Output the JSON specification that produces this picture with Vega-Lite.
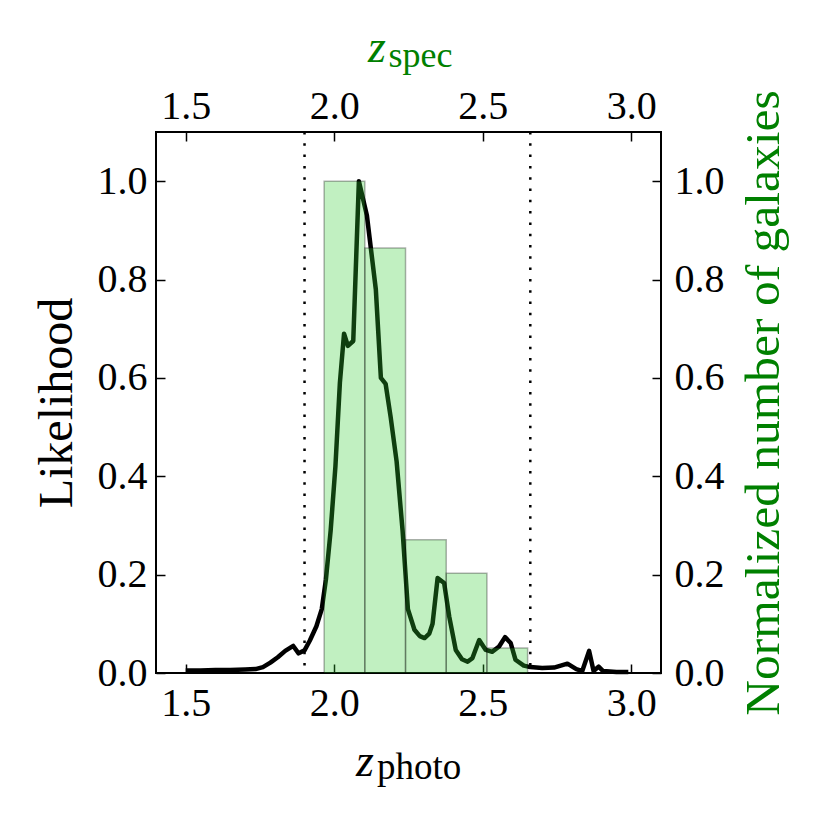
{
  "$schema": "https://vega.github.io/schema/vega-lite/v6.json",
  "width": 505,
  "height": 541,
  "autosize": {"type": "none"},
  "padding": {"left": 156, "top": 132, "right": 156, "bottom": 144},
  "background": "white",
  "datasets": {
    "likelihood": [
      {"z": 1.50, "L": 0.005}, {"z": 1.55, "L": 0.005}, {"z": 1.60, "L": 0.006}, {"z": 1.65, "L": 0.006},
      {"z": 1.70, "L": 0.007}, {"z": 1.735, "L": 0.008}, {"z": 1.76, "L": 0.012}, {"z": 1.785, "L": 0.021},
      {"z": 1.81, "L": 0.032}, {"z": 1.835, "L": 0.045}, {"z": 1.862, "L": 0.055}, {"z": 1.88, "L": 0.040},
      {"z": 1.90, "L": 0.046}, {"z": 1.918, "L": 0.066}, {"z": 1.94, "L": 0.095}, {"z": 1.958, "L": 0.13},
      {"z": 1.972, "L": 0.19}, {"z": 1.988, "L": 0.29}, {"z": 2.004, "L": 0.42}, {"z": 2.019, "L": 0.59},
      {"z": 2.033, "L": 0.69}, {"z": 2.046, "L": 0.665}, {"z": 2.064, "L": 0.675}, {"z": 2.083, "L": 1.0},
      {"z": 2.11, "L": 0.93}, {"z": 2.14, "L": 0.78}, {"z": 2.157, "L": 0.60}, {"z": 2.173, "L": 0.588},
      {"z": 2.19, "L": 0.52}, {"z": 2.21, "L": 0.43}, {"z": 2.23, "L": 0.29}, {"z": 2.248, "L": 0.13},
      {"z": 2.27, "L": 0.088}, {"z": 2.288, "L": 0.075}, {"z": 2.304, "L": 0.071}, {"z": 2.32, "L": 0.08},
      {"z": 2.331, "L": 0.10}, {"z": 2.348, "L": 0.193}, {"z": 2.37, "L": 0.183}, {"z": 2.387, "L": 0.115},
      {"z": 2.409, "L": 0.047}, {"z": 2.43, "L": 0.028}, {"z": 2.449, "L": 0.023}, {"z": 2.465, "L": 0.030},
      {"z": 2.488, "L": 0.067}, {"z": 2.51, "L": 0.047}, {"z": 2.532, "L": 0.043}, {"z": 2.555, "L": 0.054},
      {"z": 2.575, "L": 0.073}, {"z": 2.594, "L": 0.061}, {"z": 2.61, "L": 0.027}, {"z": 2.638, "L": 0.015},
      {"z": 2.66, "L": 0.012}, {"z": 2.70, "L": 0.010}, {"z": 2.74, "L": 0.011}, {"z": 2.785, "L": 0.019},
      {"z": 2.815, "L": 0.008}, {"z": 2.835, "L": 0.004}, {"z": 2.858, "L": 0.045}, {"z": 2.873, "L": 0.004},
      {"z": 2.89, "L": 0.013}, {"z": 2.905, "L": 0.004}, {"z": 2.95, "L": 0.002}, {"z": 2.99, "L": 0.002}
    ],
    "hist": [
      {"z0": 1.966, "z1": 2.103, "n": 1.0},
      {"z0": 2.103, "z1": 2.240, "n": 0.864},
      {"z0": 2.240, "z1": 2.377, "n": 0.271},
      {"z0": 2.377, "z1": 2.514, "n": 0.203},
      {"z0": 2.514, "z1": 2.651, "n": 0.051}
    ],
    "limits": [{"z": 1.9}, {"z": 2.66}]
  },
  "resolve": {"axis": {"x": "independent", "y": "independent"}},
  "layer": [
    {
      "data": {"name": "limits"},
      "transform": [{"filter": "datum.z < 2"}],
      "mark": {"type": "rule", "color": "black", "strokeWidth": 2.5, "strokeDash": [2.5, 8.8]},
      "encoding": {
        "x": {
          "field": "z", "type": "quantitative",
          "scale": {"domain": [1.4, 3.1], "nice": false, "zero": false},
          "axis": {
            "orient": "top", "values": [1.5, 2.0, 2.5, 3.0], "format": ".1f",
            "labelPadding": 15,
            "title": "z", "titleColor": "#008000", "titleFontStyle": "italic", "titleFontSize": 46,
            "titleX": 220.5, "titleY": -71, "titleAlign": "center", "titleBaseline": "alphabetic"
          }
        }
      }
    },
    {
      "data": {"name": "limits"},
      "transform": [{"filter": "datum.z > 2"}],
      "mark": {"type": "rule", "color": "black", "strokeWidth": 2.5, "strokeDash": [2.5, 8.8]},
      "encoding": {
        "x": {
          "field": "z", "type": "quantitative",
          "scale": {"domain": [1.4, 3.1], "nice": false, "zero": false},
          "axis": {
            "orient": "top", "labels": false, "ticks": false,
            "title": "spec", "titleColor": "#008000", "titleFontSize": 36,
            "titleX": 232, "titleY": -65.5, "titleAlign": "left", "titleBaseline": "alphabetic"
          }
        }
      }
    },
    {
      "data": {"name": "likelihood"},
      "mark": {"type": "line", "color": "black", "strokeWidth": 4.5, "strokeJoin": "round"},
      "encoding": {
        "x": {
          "field": "z", "type": "quantitative",
          "scale": {"domain": [1.4, 3.1], "nice": false, "zero": false},
          "axis": {
            "orient": "bottom", "labels": false, "ticks": false,
            "title": "photo", "titleFontSize": 37,
            "titleX": 220.5, "titleY": 105, "titleAlign": "left", "titleBaseline": "alphabetic"
          }
        },
        "y": {
          "field": "L", "type": "quantitative",
          "scale": {"domain": [0, 1.1], "nice": false},
          "axis": {
            "orient": "left", "values": [0, 0.2, 0.4, 0.6, 0.8, 1.0], "format": ".1f",
            "labelPadding": 18,
            "title": "Likelihood", "titleFontSize": 48, "titleAngle": 270,
            "titleX": -85, "titleY": 270.5, "titleAlign": "center", "titleBaseline": "alphabetic"
          }
        }
      }
    },
    {
      "data": {"name": "hist"},
      "mark": {"type": "rect", "fill": "#32cd32", "fillOpacity": 0.3, "stroke": "black", "strokeOpacity": 0.3, "strokeWidth": 1.5},
      "encoding": {
        "x": {
          "field": "z0", "type": "quantitative",
          "scale": {"domain": [1.4, 3.1], "nice": false, "zero": false},
          "axis": {
            "orient": "bottom", "values": [1.5, 2.0, 2.5, 3.0], "format": ".1f",
            "labelPadding": 19,
            "title": "z", "titleFontStyle": "italic", "titleFontSize": 46,
            "titleX": 208.5, "titleY": 102, "titleAlign": "center", "titleBaseline": "alphabetic"
          }
        },
        "x2": {"field": "z1"},
        "y": {
          "field": "n", "type": "quantitative",
          "scale": {"domain": [0, 1.1], "nice": false},
          "axis": {
            "orient": "right", "values": [0, 0.2, 0.4, 0.6, 0.8, 1.0], "format": ".1f",
            "labelPadding": 22,
            "title": "Normalized number of galaxies", "titleColor": "#008000", "titleFontSize": 49.5, "titleAngle": 270,
            "titleX": 117, "titleY": 270.5, "titleAlign": "center", "titleBaseline": "alphabetic"
          }
        },
        "y2": {"datum": 0}
      }
    }
  ],
  "config": {
    "view": {"stroke": "black", "strokeWidth": 2},
    "axis": {
      "domain": false, "grid": false,
      "labelFont": "Liberation Serif, DejaVu Serif, serif", "labelFontSize": 40, "labelColor": "black",
      "labelFlush": false, "labelOverlap": false,
      "tickColor": "black", "tickSize": -9, "tickWidth": 1.5,
      "titleFont": "Liberation Serif, DejaVu Serif, serif", "titleFontWeight": "normal", "titleColor": "black"
    }
  }
}
